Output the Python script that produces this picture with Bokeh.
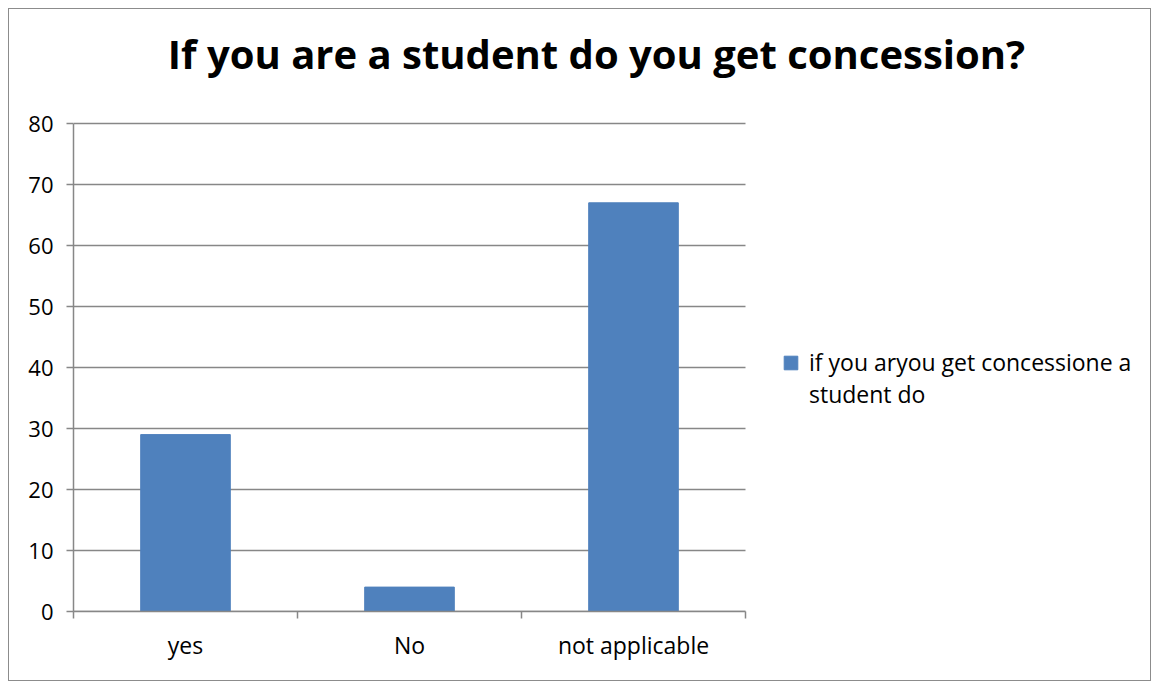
from bokeh.plotting import figure
from bokeh.models import FixedTicker, Range1d, Legend, LegendItem, Label
from bokeh.embed import file_html
from bokeh.resources import INLINE

title = "If you are a student do you get concession?"
categories = ["yes", "No", "not applicable"]
values = [29, 4, 67]
series_lines = ["if you aryou get concessione a", "student do"]
y_ticks = [0, 10, 20, 30, 40, 50, 60, 70, 80]

FONT = "Open Sans"
GRID = "#878787"
BAR = "#4F81BD"

W, H = 1143, 673
BL, BR, BT, BB = 64, 11, 6, 71
PLOT_W, PLOT_H = 672, 488  # pixel size of the value area inside the widened frame

n = len(categories)
y_max = y_ticks[-1]
xc = [i + 0.5 for i in range(n)]
# the frame is widened / heightened to host legend and title; plot area is [0, n] x [0, y_max]
x_end = n * (W - BL - BR) / PLOT_W
y_end = y_max * (H - BT - BB) / PLOT_H

p = figure(width=W, height=H, output_backend="svg", toolbar_location=None,
           x_range=Range1d(0, x_end), y_range=Range1d(0, y_end),
           min_border_left=BL, min_border_right=BR, min_border_top=BT, min_border_bottom=BB)
p.outline_line_color = None
p.background_fill_color = "white"
p.border_fill_color = "white"
p.xgrid.grid_line_color = None
p.ygrid.grid_line_color = None

# horizontal gridlines limited to the plot area
p.segment(x0=[0] * len(y_ticks), x1=[n] * len(y_ticks), y0=y_ticks, y1=y_ticks,
          line_color=GRID, line_width=1.5)

r = p.vbar(x=xc, top=values, width=0.4, color=BAR)
r_blank = p.vbar(x=xc, top=values, width=0.4, fill_alpha=0, line_alpha=0)

p.xaxis.bounds = (0, n)
p.xaxis.ticker = FixedTicker(ticks=xc, minor_ticks=list(range(n + 1)))
p.xaxis.major_label_overrides = {x: c for x, c in zip(xc, categories)}
p.xaxis.major_tick_out = 0
p.xaxis.major_tick_in = 0
p.xaxis.minor_tick_out = 7
p.xaxis.minor_tick_in = 0
p.xaxis.axis_line_color = GRID
p.xaxis.axis_line_width = 1.5
p.xaxis.minor_tick_line_color = GRID
p.xaxis.minor_tick_line_width = 1.5
p.xaxis.major_label_standoff = 10
p.xaxis.major_label_text_font = FONT
p.xaxis.major_label_text_font_size = "23px"
p.xaxis.major_label_text_color = "black"

p.yaxis.bounds = (0, y_max)
p.yaxis.ticker = FixedTicker(ticks=y_ticks)
p.yaxis.major_tick_out = 7
p.yaxis.major_tick_in = 0
p.yaxis.minor_tick_line_color = None
p.yaxis.axis_line_color = GRID
p.yaxis.axis_line_width = 1.5
p.yaxis.major_tick_line_color = GRID
p.yaxis.major_tick_line_width = 1.5
p.yaxis.major_label_standoff = 13
p.yaxis.major_label_text_font = FONT
p.yaxis.major_label_text_font_size = "22px"
p.yaxis.major_label_text_color = "black"

p.add_layout(Label(x=523, y=558, x_units="screen", y_units="screen",
                   text=title, text_font=FONT, text_font_style="bold", text_font_size="40px",
                   text_align="center", text_baseline="alphabetic", text_color="black"))

legend = Legend(items=[LegendItem(label=series_lines[0], renderers=[r]),
                       LegendItem(label=series_lines[1], renderers=[r_blank])],
                location=(709, 201), margin=0, padding=0, spacing=0,
                label_text_font=FONT, label_text_font_size="23px", label_text_color="black",
                label_standoff=10, label_height=32,
                glyph_width=17, glyph_height=17,
                border_line_color=None, background_fill_alpha=0)
p.add_layout(legend, "center")

p.styles = {"border": "1.5px solid #8c8c8c", "margin-left": "8px", "margin-top": "8px"}

open("out.html", "w").write(file_html(p, INLINE))
